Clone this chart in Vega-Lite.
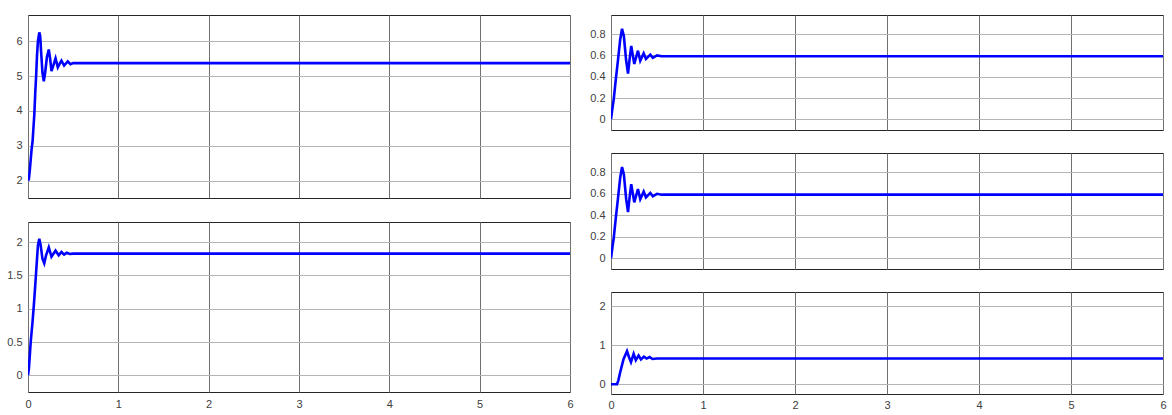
{
  "$schema": "https://vega.github.io/schema/vega-lite/v6.json",
  "background": "white",
  "padding": {"left": 3, "top": 14, "right": 5, "bottom": 0},
  "autosize": {"type": "pad"},
  "config": {
    "view": {"stroke": "#262626", "strokeWidth": 1},
    "axis": {"domain": false, "ticks": false, "labelFont": "Liberation Sans", "labelFontSize": 11, "labelColor": "#404040", "gridColor": "#b4b4b4", "gridWidth": 1, "gridOpacity": 1, "title": null, "format": "~g"}
  },
  "datasets": {
    "a": [
      {"t": 0, "v": 2.0}, {"t": 0.01, "v": 2.05}, {"t": 0.02, "v": 2.3}, {"t": 0.03, "v": 2.6}, {"t": 0.04, "v": 2.9},
      {"t": 0.05, "v": 3.1}, {"t": 0.06, "v": 3.5}, {"t": 0.07, "v": 3.9}, {"t": 0.08, "v": 4.5}, {"t": 0.09, "v": 5.0},
      {"t": 0.1, "v": 5.6}, {"t": 0.11, "v": 6.0}, {"t": 0.125, "v": 6.25}, {"t": 0.135, "v": 6.15}, {"t": 0.145, "v": 5.7},
      {"t": 0.16, "v": 5.1}, {"t": 0.175, "v": 4.85}, {"t": 0.19, "v": 5.1}, {"t": 0.21, "v": 5.55}, {"t": 0.23, "v": 5.76},
      {"t": 0.245, "v": 5.5}, {"t": 0.26, "v": 5.14}, {"t": 0.28, "v": 5.3}, {"t": 0.305, "v": 5.51}, {"t": 0.33, "v": 5.25},
      {"t": 0.35, "v": 5.35}, {"t": 0.37, "v": 5.44}, {"t": 0.4, "v": 5.3}, {"t": 0.44, "v": 5.42}, {"t": 0.47, "v": 5.34},
      {"t": 0.5, "v": 5.37}, {"t": 6, "v": 5.37}
    ],
    "b": [
      {"t": 0, "v": 0}, {"t": 0.01, "v": 0.1}, {"t": 0.02, "v": 0.3}, {"t": 0.03, "v": 0.5}, {"t": 0.04, "v": 0.65},
      {"t": 0.05, "v": 0.8}, {"t": 0.06, "v": 0.97}, {"t": 0.07, "v": 1.15}, {"t": 0.08, "v": 1.35}, {"t": 0.09, "v": 1.55},
      {"t": 0.1, "v": 1.75}, {"t": 0.11, "v": 1.95}, {"t": 0.125, "v": 2.05}, {"t": 0.14, "v": 1.95}, {"t": 0.16, "v": 1.75},
      {"t": 0.18, "v": 1.68}, {"t": 0.2, "v": 1.8}, {"t": 0.23, "v": 1.92}, {"t": 0.26, "v": 1.78}, {"t": 0.305, "v": 1.87},
      {"t": 0.34, "v": 1.8}, {"t": 0.37, "v": 1.85}, {"t": 0.4, "v": 1.81}, {"t": 0.43, "v": 1.84}, {"t": 0.46, "v": 1.82},
      {"t": 0.5, "v": 1.825}, {"t": 6, "v": 1.825}
    ],
    "c": [
      {"t": 0, "v": 0}, {"t": 0.015, "v": 0.1}, {"t": 0.03, "v": 0.19}, {"t": 0.054, "v": 0.39}, {"t": 0.075, "v": 0.55},
      {"t": 0.1, "v": 0.75}, {"t": 0.12, "v": 0.85}, {"t": 0.14, "v": 0.78}, {"t": 0.165, "v": 0.55}, {"t": 0.185, "v": 0.43},
      {"t": 0.2, "v": 0.55}, {"t": 0.22, "v": 0.69}, {"t": 0.253, "v": 0.52}, {"t": 0.293, "v": 0.645}, {"t": 0.318, "v": 0.55},
      {"t": 0.355, "v": 0.62}, {"t": 0.38, "v": 0.567}, {"t": 0.427, "v": 0.608}, {"t": 0.455, "v": 0.577}, {"t": 0.5, "v": 0.6},
      {"t": 0.55, "v": 0.592}, {"t": 6, "v": 0.592}
    ],
    "e": [
      {"t": 0, "v": 0}, {"t": 0.065, "v": 0}, {"t": 0.08, "v": 0.1}, {"t": 0.1, "v": 0.31}, {"t": 0.137, "v": 0.65},
      {"t": 0.174, "v": 0.85}, {"t": 0.195, "v": 0.7}, {"t": 0.217, "v": 0.57}, {"t": 0.246, "v": 0.78}, {"t": 0.27, "v": 0.62},
      {"t": 0.3, "v": 0.74}, {"t": 0.326, "v": 0.64}, {"t": 0.358, "v": 0.71}, {"t": 0.387, "v": 0.66}, {"t": 0.42, "v": 0.7},
      {"t": 0.45, "v": 0.65}, {"t": 0.5, "v": 0.66}, {"t": 6, "v": 0.66}
    ]
  },
  "spacing": 10,
  "hconcat": [
    {
      "spacing": 22,
      "vconcat": [
        {
          "width": 542, "height": 183,
          "data": {"name": "a"},
          "mark": {"type": "line", "color": "#0000ff", "strokeWidth": 2.6, "clip": true},
          "encoding": {
            "x": {"field": "t", "type": "quantitative", "scale": {"domain": [0, 6], "nice": false, "zero": false},
                  "axis": {"values": [0, 1, 2, 3, 4, 5, 6], "labels": false, "gridColor": "#707070", "minExtent": 0, "maxExtent": 0}},
            "y": {"field": "v", "type": "quantitative", "scale": {"domain": [1.5, 6.75], "nice": false, "zero": false},
                  "axis": {"values": [2, 3, 4, 5, 6], "labelPadding": 6, "minExtent": 24, "maxExtent": 24}}
          }
        },
        {
          "width": 542, "height": 170,
          "data": {"name": "b"},
          "mark": {"type": "line", "color": "#0000ff", "strokeWidth": 2.6, "clip": true},
          "encoding": {
            "x": {"field": "t", "type": "quantitative", "scale": {"domain": [0, 6], "nice": false, "zero": false},
                  "axis": {"values": [0, 1, 2, 3, 4, 5, 6], "labelFlush": false, "labelPadding": 6, "gridColor": "#707070"}},
            "y": {"field": "v", "type": "quantitative", "scale": {"domain": [-0.25, 2.3], "nice": false, "zero": false},
                  "axis": {"values": [0, 0.5, 1, 1.5, 2], "labelPadding": 6, "minExtent": 24, "maxExtent": 24}}
          }
        }
      ]
    },
    {
      "spacing": 21,
      "vconcat": [
        {
          "width": 552, "height": 115,
          "data": {"name": "c"},
          "mark": {"type": "line", "color": "#0000ff", "strokeWidth": 2.6, "clip": true},
          "encoding": {
            "x": {"field": "t", "type": "quantitative", "scale": {"domain": [0, 6], "nice": false, "zero": false},
                  "axis": {"values": [0, 1, 2, 3, 4, 5, 6], "labels": false, "gridColor": "#707070", "minExtent": 0, "maxExtent": 0}},
            "y": {"field": "v", "type": "quantitative", "scale": {"domain": [-0.1, 0.98], "nice": false, "zero": false},
                  "axis": {"values": [0, 0.2, 0.4, 0.6, 0.8], "labelPadding": 6, "minExtent": 26, "maxExtent": 26}}
          }
        },
        {
          "width": 552, "height": 116,
          "data": {"name": "c"},
          "mark": {"type": "line", "color": "#0000ff", "strokeWidth": 2.6, "clip": true},
          "encoding": {
            "x": {"field": "t", "type": "quantitative", "scale": {"domain": [0, 6], "nice": false, "zero": false},
                  "axis": {"values": [0, 1, 2, 3, 4, 5, 6], "labels": false, "gridColor": "#707070", "minExtent": 0, "maxExtent": 0}},
            "y": {"field": "v", "type": "quantitative", "scale": {"domain": [-0.1, 0.98], "nice": false, "zero": false},
                  "axis": {"values": [0, 0.2, 0.4, 0.6, 0.8], "labelPadding": 6, "minExtent": 26, "maxExtent": 26}}
          }
        },
        {
          "width": 552, "height": 102,
          "data": {"name": "e"},
          "mark": {"type": "line", "color": "#0000ff", "strokeWidth": 2.6, "clip": true},
          "encoding": {
            "x": {"field": "t", "type": "quantitative", "scale": {"domain": [0, 6], "nice": false, "zero": false},
                  "axis": {"values": [0, 1, 2, 3, 4, 5, 6], "labelFlush": false, "labelPadding": 5, "gridColor": "#707070"}},
            "y": {"field": "v", "type": "quantitative", "scale": {"domain": [-0.25, 2.37], "nice": false, "zero": false},
                  "axis": {"values": [0, 1, 2], "labelPadding": 6, "minExtent": 26, "maxExtent": 26}}
          }
        }
      ]
    }
  ]
}
